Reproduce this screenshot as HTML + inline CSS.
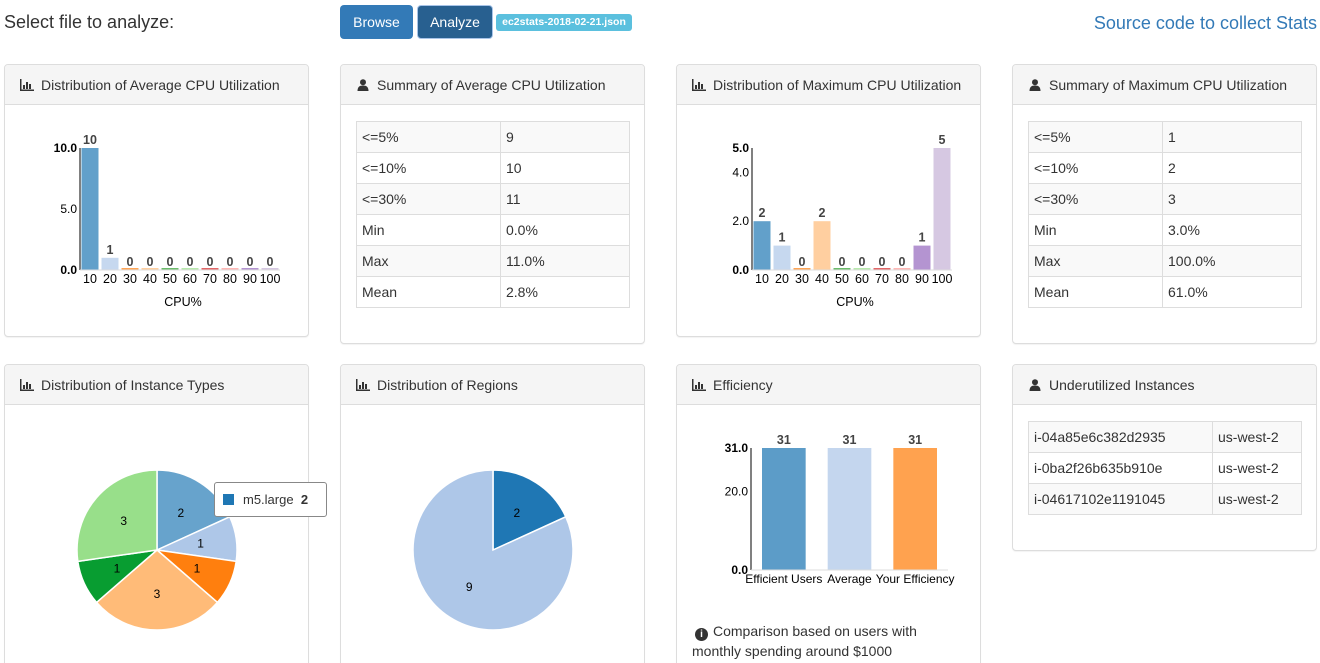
<!DOCTYPE html>
<html><head><meta charset="utf-8">
<style>
html,body{margin:0;width:1320px;height:663px;overflow:hidden}
body{background:#fff;font-family:"Liberation Sans",Arial,sans-serif;color:#333;position:relative}
.abs{position:absolute}
.panel{position:absolute;width:303px;border:1px solid #ddd;border-radius:4px;background:#fff;box-shadow:0 1px 1px rgba(0,0,0,.05)}
.ph{height:40px;background:#f5f5f5;border-bottom:1px solid #ddd;border-radius:3px 3px 0 0;font-size:14px;line-height:40px;padding-left:15px;box-sizing:border-box}
.ico{display:inline-block;width:14px;height:12px;margin-right:7px;vertical-align:-1px}
table{position:absolute;border-collapse:collapse;font-size:14px}
td{border:1px solid #ddd;height:31px;padding:0 5px;box-sizing:border-box}
tr:nth-child(odd) td{background:#f9f9f9}
.btn{position:absolute;color:#fff;font-size:14px;text-align:center;border-radius:4px;line-height:34px}
svg text{font-family:"Liberation Sans",Arial,sans-serif}
</style></head><body>
<div class="abs" style="left:4px;top:12px;font-size:18px">Select file to analyze:</div>
<div class="btn" style="left:340px;top:5px;width:73px;height:34px;background:#337ab7">Browse</div>
<div class="btn" style="left:417px;top:5px;width:74px;height:32px;background:#286090;border:1px solid #a8c4e8;line-height:32px">Analyze</div>
<div class="abs" style="left:496px;top:14px;width:136px;height:17px;background:#5bc0de;color:#fff;font-size:10.5px;font-weight:bold;line-height:17px;text-align:center;border-radius:3px">ec2stats-2018-02-21.json</div>
<div class="abs" style="right:3px;top:13px;font-size:18px;color:#337ab7">Source code to collect Stats</div>

<div class="panel" style="left:4px;top:64px;height:271px"><div class="ph"><svg class="ico" viewBox="0 0 14 12"><path d="M0 0v12h14v-1.5H1.5V0z M3 6h2v4H3z M6 3h2v7H6z M9 5h2v5H9z" fill="#333"/></svg>Distribution of Average CPU Utilization</div></div>
<div class="panel" style="left:340px;top:64px;height:278px"><div class="ph"><svg class="ico" viewBox="0 0 14 12"><circle cx="7" cy="3.2" r="3" fill="#333"/><path d="M1.5 12c0-4 2-5.5 5.5-5.5s5.5 1.5 5.5 5.5z" fill="#333"/></svg>Summary of Average CPU Utilization</div></div>
<div class="panel" style="left:676px;top:64px;height:271px"><div class="ph"><svg class="ico" viewBox="0 0 14 12"><path d="M0 0v12h14v-1.5H1.5V0z M3 6h2v4H3z M6 3h2v7H6z M9 5h2v5H9z" fill="#333"/></svg>Distribution of Maximum CPU Utilization</div></div>
<div class="panel" style="left:1012px;top:64px;height:278px"><div class="ph"><svg class="ico" viewBox="0 0 14 12"><circle cx="7" cy="3.2" r="3" fill="#333"/><path d="M1.5 12c0-4 2-5.5 5.5-5.5s5.5 1.5 5.5 5.5z" fill="#333"/></svg>Summary of Maximum CPU Utilization</div></div>
<div class="panel" style="left:4px;top:364px;height:310px"><div class="ph"><svg class="ico" viewBox="0 0 14 12"><path d="M0 0v12h14v-1.5H1.5V0z M3 6h2v4H3z M6 3h2v7H6z M9 5h2v5H9z" fill="#333"/></svg>Distribution of Instance Types</div></div>
<div class="panel" style="left:340px;top:364px;height:310px"><div class="ph"><svg class="ico" viewBox="0 0 14 12"><path d="M0 0v12h14v-1.5H1.5V0z M3 6h2v4H3z M6 3h2v7H6z M9 5h2v5H9z" fill="#333"/></svg>Distribution of Regions</div></div>
<div class="panel" style="left:676px;top:364px;height:310px"><div class="ph"><svg class="ico" viewBox="0 0 14 12"><path d="M0 0v12h14v-1.5H1.5V0z M3 6h2v4H3z M6 3h2v7H6z M9 5h2v5H9z" fill="#333"/></svg>Efficiency</div></div>
<div class="panel" style="left:1012px;top:364px;height:185px"><div class="ph"><svg class="ico" viewBox="0 0 14 12"><circle cx="7" cy="3.2" r="3" fill="#333"/><path d="M1.5 12c0-4 2-5.5 5.5-5.5s5.5 1.5 5.5 5.5z" fill="#333"/></svg>Underutilized Instances</div></div>

<table style="left:356px;top:121px;width:274px">
<tr><td style="width:144px">&lt;=5%</td><td>9</td></tr><tr><td>&lt;=10%</td><td>10</td></tr><tr><td>&lt;=30%</td><td>11</td></tr><tr><td>Min</td><td>0.0%</td></tr><tr><td>Max</td><td>11.0%</td></tr><tr><td>Mean</td><td>2.8%</td></tr></table>
<table style="left:1028px;top:121px;width:274px">
<tr><td style="width:134px">&lt;=5%</td><td>1</td></tr><tr><td>&lt;=10%</td><td>2</td></tr><tr><td>&lt;=30%</td><td>3</td></tr><tr><td>Min</td><td>3.0%</td></tr><tr><td>Max</td><td>100.0%</td></tr><tr><td>Mean</td><td>61.0%</td></tr></table>
<table style="left:1028px;top:421px;width:274px">
<tr><td style="width:184px">i-04a85e6c382d2935</td><td>us-west-2</td></tr><tr><td>i-0ba2f26b635b910e</td><td>us-west-2</td></tr><tr><td>i-04617102e1191045</td><td>us-west-2</td></tr></table>

<div class="abs" style="left:692px;top:621px;font-size:14px;line-height:20px"><span style="display:inline-block;width:13px;height:13px;border-radius:50%;background:#333;color:#fff;font-size:10px;font-weight:bold;line-height:13px;text-align:center;margin:0 5px 0 3px;vertical-align:-1px">i</span>Comparison based on users with<br>monthly spending around $1000</div>

<svg id="charts" class="abs" style="left:0;top:0" width="1320" height="663"></svg>
<div class="abs" style="left:214px;top:482px;width:113px;height:35px;border:1px solid #888;border-radius:3px;background:#fff;font-size:13px;line-height:34px;box-sizing:border-box"><span style="display:inline-block;width:11px;height:11px;background:#1f77b4;margin:0 9px 0 8px;vertical-align:-1px"></span>m5.large &nbsp;<b>2</b></div>

<script>
const cpuCats=["10","20","30","40","50","60","70","80","90","100"];
const avgCounts=[10,1,0,0,0,0,0,0,0,0];
const avgTicks=[0,5,10];
const maxCounts=[2,1,0,2,0,0,0,0,1,5];
const maxTicks=[0,2,4,5];
const typeValues=[2,1,1,3,1,3];
const typeNames=["m5.large","t2.micro","t2.small","t2.medium","m4.large","c5.large"];
const regionValues=[2,9];
const regionNames=["us-east-1","us-west-2"];
const effCats=["Efficient Users","Average","Your Efficiency"];
const effValues=[31,31,31];
const effTicks=[0,20,31];
const cat10=["#1f77b4","#aec7e8","#ff7f0e","#ffbb78","#2ca02c","#98df8a","#d62728","#ff9896","#9467bd","#c5b0d5"];
const svg=document.getElementById('charts');
const NS="http://www.w3.org/2000/svg";
function mk(tag,attrs,parent){const e=document.createElementNS(NS,tag);for(const k in attrs)e.setAttribute(k,attrs[k]);(parent||svg).appendChild(e);return e;}
function txt(s,attrs,parent){const e=mk('text',attrs,parent);e.textContent=s;return e;}

function barChart(name,cats,vals,ticks,x0,width,yTop,yBot,maxV,colors,op,pad,fs){
  const g=mk('g',{});
  
  
  const bw=width/cats.length;
  const y=v=>yBot-(v/maxV)*(yBot-yTop);
  cats.forEach((c,i)=>{
    const bx=x0+i*bw+pad, h=yBot-y(vals[i]);
    const r=mk('rect',{x:bx,y:y(vals[i])-(vals[i]?0:2),width:bw-2*pad,height:Math.max(h,2),fill:colors[i%colors.length],'fill-opacity':op},g);
    
    
    txt(String(vals[i]),{x:x0+i*bw+bw/2,y:y(vals[i])-4,'text-anchor':'middle','font-size':12.5,'font-weight':'bold',fill:'#444'},g);
    txt(c,{x:x0+i*bw+bw/2,y:yBot+13,'text-anchor':'middle','font-size':fs,fill:'#000'},g);
  });
  mk('line',{x1:x0,y1:yTop,x2:x0,y2:yBot,stroke:'#000'},g);
  mk('line',{x1:x0,y1:yBot,x2:x0+width,y2:yBot,stroke:'#ddd'},g);
  ticks.forEach(t=>{txt(t.toFixed(1),{x:x0-3,y:y(t)+4,'text-anchor':'end','font-size':12,'font-weight':(t===maxV||t===0)?'bold':'normal',fill:'#000'},g);});
  return g;
}
barChart('avg-cpu-bar-chart',cpuCats,avgCounts,avgTicks,80,200,148,270,10,cat10,0.7,1.5,12.5);
txt('CPU%',{x:183,y:306,'text-anchor':'middle','font-size':12.5,fill:'#000'});
barChart('max-cpu-bar-chart',cpuCats,maxCounts,maxTicks,752,200,148,270,5,cat10,0.7,1.5,12.5);
txt('CPU%',{x:855,y:306,'text-anchor':'middle','font-size':12.5,fill:'#000'});
barChart('efficiency-bar-chart',effCats,effValues,effTicks,751,197,448,570,31,["#1f77b4","#aec7e8","#ff7f0e"],0.73,11,12);

function pie(name,vals,names,colors,cx,cy,r,ops){
  const g=mk('g',{});
  
  
  const tot=vals.reduce((a,b)=>a+b,0);let a=0;
  vals.forEach((v,i)=>{
    const a0=a,a1=a+v/tot*2*Math.PI;a=a1;
    const p=t=>[cx+r*Math.sin(t),cy-r*Math.cos(t)];
    const [x0,y0]=p(a0),[x1,y1]=p(a1);
    const s=mk('path',{d:`M${cx},${cy}L${x0},${y0}A${r},${r} 0 ${a1-a0>Math.PI?1:0} 1 ${x1},${y1}Z`,fill:colors[i],'fill-opacity':ops[i],stroke:'#fff','stroke-width':1.5},g);
    
    
    const m=(a0+a1)/2;
    txt(String(v),{x:cx+r*0.55*Math.sin(m),y:cy-r*0.55*Math.cos(m)+4,'text-anchor':'middle','font-size':12,fill:'#000'},g);
  });
}
pie('instance-types-pie',typeValues,typeNames,["#1f77b4","#aec7e8","#ff7f0e","#ffbb78","#009a2a","#98df8a"],157,550,80,[0.68,1,1,1,0.97,1]);
pie('regions-pie',regionValues,regionNames,["#1f77b4","#aec7e8"],493,550,80,[1,1]);
</script>
</body></html>
